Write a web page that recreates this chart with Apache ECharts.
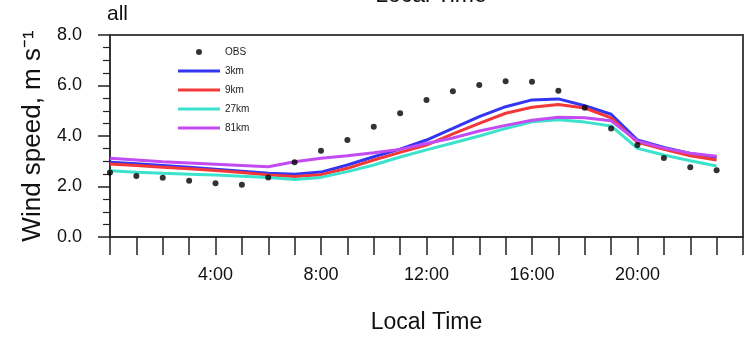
<!DOCTYPE html>
<html>
<head>
<meta charset="utf-8">
<script src="https://cdn.jsdelivr.net/npm/echarts@6/dist/echarts.min.js"></script>
<style>
html,body{margin:0;padding:0;background:#fff;}
#c{width:746px;height:340px;}
</style>
</head>
<body>
<div id="c"></div>
<script>
var hours = [0,1,2,3,4,5,6,7,8,9,10,11,12,13,14,15,16,17,18,19,20,21,22,23];
var obs   = [2.55,2.42,2.35,2.23,2.13,2.07,2.36,2.96,3.42,3.84,4.37,4.90,5.43,5.77,6.02,6.17,6.15,5.79,5.12,4.30,3.64,3.13,2.76,2.64];
var km3   = [2.96,2.90,2.83,2.76,2.68,2.60,2.52,2.49,2.57,2.85,3.18,3.48,3.84,4.30,4.77,5.16,5.43,5.47,5.20,4.86,3.84,3.55,3.31,3.16];
var km9   = [2.89,2.83,2.76,2.70,2.63,2.55,2.46,2.40,2.47,2.72,3.05,3.35,3.64,4.08,4.50,4.90,5.14,5.25,5.11,4.72,3.75,3.47,3.22,3.05];
var km27  = [2.62,2.56,2.52,2.49,2.46,2.41,2.36,2.28,2.36,2.59,2.85,3.17,3.45,3.72,4.00,4.30,4.56,4.64,4.55,4.40,3.51,3.25,3.02,2.81];
var km81  = [3.12,3.05,2.98,2.93,2.88,2.83,2.78,2.98,3.12,3.22,3.34,3.47,3.70,3.92,4.20,4.42,4.62,4.74,4.72,4.60,3.80,3.52,3.32,3.20];
var seriesNames = ['OBS','3km','9km','27km','81km'];
var xLabelHours = [4,8,12,16,20];
var yTickLabels = ['0.0','2.0','4.0','6.0','8.0'];

var colors = {'3km':'#3434f4','9km':'#f43838','27km':'#3ce2cc','81km':'#c24cf2'};
function pairs(arr){ return hours.map(function(h,i){ return [h, arr[i]]; }); }
function lineSeries(name, arr){
  return {
    name: name, type: 'line', data: pairs(arr), symbol: 'none', showSymbol: false,
    lineStyle: {color: colors[name], width: 3}, itemStyle: {color: colors[name]}, z: 2
  };
}
var lineIcon = 'path://M0,0L42,0L42,3L0,3Z';
var font = "'Liberation Sans', Arial, Helvetica, sans-serif";
var chart = echarts.init(document.getElementById('c'), null, {renderer: 'canvas'});
chart.setOption({
  animation: false,
  backgroundColor: '#fff',
  textStyle: {fontFamily: font},
  grid: {left: 110, top: 35, width: 642, height: 202, show: true, borderColor: '#444', borderWidth: 2, backgroundColor: 'transparent'},
  graphic: [
    {type: 'text', left: 107, top: 4, style: {text: 'all', font: '21px ' + font, fill: '#111'}},
    {type: 'text', x: 431, y: -4, style: {text: 'Local Time', font: '23px ' + font, fill: '#111', textAlign: 'center', textVerticalAlign: 'middle'}}
  ],
  legend: {
    data: seriesNames.map(function(n){ return {name: n, icon: n === 'OBS' ? 'circle' : lineIcon}; }),
    orient: 'vertical', left: 178, top: 46, padding: 0,
    itemWidth: 42, itemHeight: 6, itemGap: 7,
    textStyle: {fontSize: 10, lineHeight: 12, color: '#222', fontFamily: font}
  },
  xAxis: {
    type: 'value', min: 0, max: 24, interval: 1,
    axisLine: {show: true, lineStyle: {color: '#333', width: 2}},
    axisTick: {show: true, length: 18, lineStyle: {color: '#222', width: 1.5}},
    axisLabel: {
      margin: 29, fontSize: 18, color: '#111', fontFamily: font,
      formatter: function(v){ return xLabelHours.indexOf(v) >= 0 ? v + ':00' : ''; }
    },
    splitLine: {show: false},
    name: 'Local Time', nameLocation: 'middle', nameGap: 74,
    nameTextStyle: {fontSize: 23, color: '#111', fontFamily: font}
  },
  yAxis: {
    type: 'value', min: 0, max: 8, interval: 2,
    axisLine: {show: true, lineStyle: {color: '#333', width: 2}},
    axisTick: {show: true, length: 12, lineStyle: {color: '#222', width: 1.5}},
    minorTick: {show: true, splitNumber: 4, length: 7, lineStyle: {color: '#222', width: 1.2}},
    axisLabel: {
      margin: 28, fontSize: 18, color: '#111', fontFamily: font,
      formatter: function(v){ return yTickLabels[Math.round(v/2)]; }
    },
    splitLine: {show: false},
    name: 'Wind speed, m s\u207B\u00B9', nameLocation: 'middle', nameGap: 57,
    nameTextStyle: {fontSize: 26, color: '#111', fontFamily: font}
  },
  series: [
    {name: 'OBS', type: 'scatter', data: pairs(obs), symbol: 'circle', symbolSize: 6,
     itemStyle: {color: '#000'}, z: 5},
    lineSeries('3km', km3),
    lineSeries('9km', km9),
    lineSeries('27km', km27),
    lineSeries('81km', km81)
  ]
});
</script>
</body>
</html>
